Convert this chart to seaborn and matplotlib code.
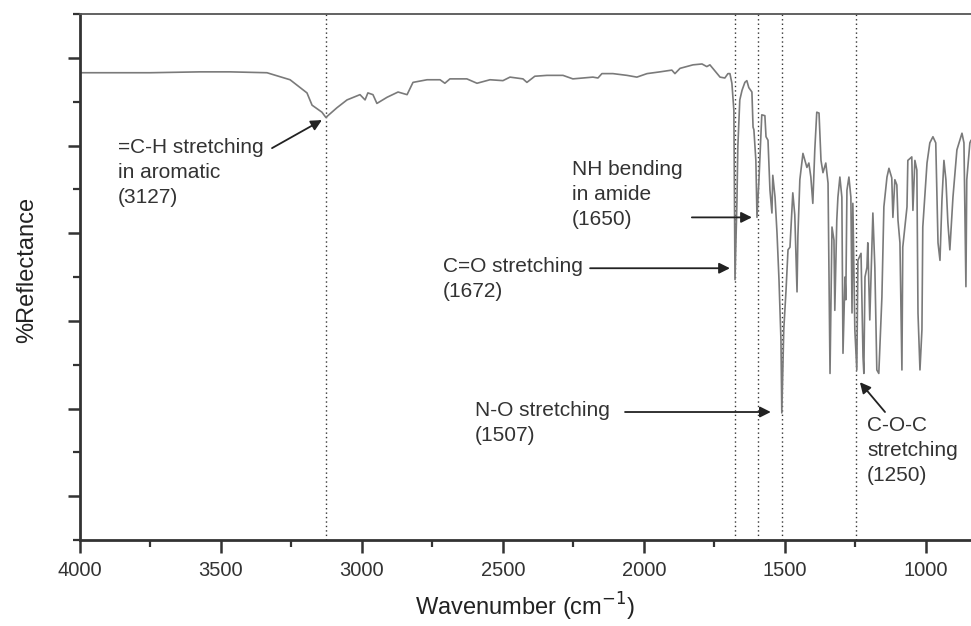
import matplotlib
matplotlib.use("Agg")
import matplotlib.pyplot as plt
from matplotlib.ticker import MultipleLocator, NullFormatter
import seaborn as sns
import pandas as pd

# Spectrum (wavenumber in cm-1, reflectance in arbitrary units)
wavenumber = [
    4000, 3752, 3574, 3468, 3337, 3255, 3195, 3177, 3142, 3128, 3089, 3053, 3007, 2989,
    2979, 2961, 2947, 2911, 2872, 2840, 2819, 2769, 2723, 2706, 2688, 2628, 2592, 2546,
    2500, 2475, 2429, 2415, 2387, 2344, 2287, 2252, 2181, 2163, 2149, 2110, 2060, 2025,
    1989, 1943, 1901, 1890, 1872, 1826, 1794, 1777, 1766, 1730, 1713, 1702, 1695, 1688,
    1681, 1677, 1670, 1667, 1660, 1652, 1642, 1635, 1628, 1617, 1613, 1610, 1603, 1599,
    1592, 1582, 1571, 1567, 1560, 1553, 1546, 1543, 1535, 1528, 1521, 1514, 1511, 1504,
    1496, 1489, 1482, 1472, 1465, 1457, 1454, 1447, 1436, 1422, 1415, 1408, 1401, 1394,
    1387, 1379, 1372, 1365, 1355, 1347, 1340, 1333, 1326, 1323, 1316, 1312, 1305, 1298,
    1294, 1287, 1284, 1280, 1273, 1266, 1262, 1259, 1252, 1245, 1241, 1230, 1223, 1220,
    1216, 1209, 1206, 1199, 1191, 1188, 1181, 1174, 1167, 1156, 1149, 1138, 1131, 1121,
    1117, 1110, 1103, 1099, 1092, 1085, 1082, 1067, 1064, 1050, 1046, 1039, 1032, 1028,
    1021, 1014, 1011, 996, 986, 975, 965, 957, 950, 943, 936, 929, 922, 915,
    904, 890, 872, 865, 858, 855, 844, 840,
]
reflectance = [
    48.3, 48.3, 48.4, 48.4, 48.3, 47.5, 46.0, 44.6, 43.8, 43.2, 44.3, 45.2, 45.8, 45.2,
    46.0, 45.8, 44.8, 45.5, 46.1, 45.8, 47.2, 47.5, 47.5, 47.1, 47.6, 47.6, 47.1, 47.5,
    47.4, 47.8, 47.6, 47.2, 47.9, 48.0, 48.0, 47.6, 47.8, 47.7, 48.2, 48.2, 48.0, 47.8,
    48.2, 48.4, 48.6, 48.2, 48.8, 49.2, 49.3, 49.0, 49.2, 47.8, 47.7, 48.2, 48.2, 47.1,
    44.0, 24.7, 33.8, 39.8, 45.2, 46.3, 47.2, 47.4, 46.6, 46.1, 42.1, 41.8, 38.3, 31.8,
    36.1, 43.5, 43.4, 41.0, 40.6, 34.9, 32.3, 36.6, 34.1, 30.0, 24.7, 17.8, 9.5, 19.0,
    23.5, 28.1, 28.4, 34.6, 32.1, 23.3, 29.6, 36.1, 39.1, 37.5, 38.0, 36.4, 33.4, 39.5,
    43.8, 43.7, 38.3, 36.9, 38.0, 35.7, 14.0, 30.7, 29.2, 21.2, 31.5, 34.1, 36.4, 34.1,
    16.3, 25.0, 22.4, 34.9, 36.4, 34.1, 20.9, 33.4, 19.0, 14.4, 26.9, 27.7, 15.9, 14.0,
    25.0, 26.1, 28.9, 20.1, 29.2, 32.3, 26.1, 14.4, 14.0, 22.7, 33.0, 36.4, 37.4, 36.3,
    31.8, 36.1, 35.5, 31.5, 28.9, 14.4, 28.4, 33.0, 38.3, 38.7, 32.6, 38.3, 37.2, 20.9,
    14.4, 19.0, 30.7, 38.0, 40.3, 41.0, 40.3, 28.9, 26.9, 33.8, 38.3, 36.1, 31.2, 28.1,
    34.1, 39.5, 41.4, 40.3, 23.9, 36.1, 40.3, 40.6,
]

# Marked band positions (dotted guide lines)
band_positions = [3127, 1677, 1597, 1510, 1249]

# Annotations: label, text anchor (x, y top), arrow tail, arrow head
ann_labels = ["=C-H stretching\nin aromatic\n(3127)",
              "NH bending\nin amide\n(1650)",
              "C=O stretching\n(1672)",
              "N-O stretching\n(1507)",
              "C-O-C\nstretching\n(1250)"]
ann_text_x = [3865, 2255, 2713, 2599, 1209]
ann_text_y = [40.8, 38.4, 27.3, 10.9, 9.2]
ann_tail_x = [3319, 1830, 2191, 2067, 1145]
ann_tail_y = [39.7, 31.8, 26.0, 9.6, 9.6]
ann_head_x = [3142, 1617, 1695, 1550, 1234]
ann_head_y = [42.9, 31.8, 26.0, 9.6, 13.0]

x_ticks = [4000, 3500, 3000, 2500, 2000, 1500, 1000]

sns.set_theme(style="ticks")
plt.rcParams["font.family"] = ["Liberation Sans", "DejaVu Sans"]

fig = plt.figure(figsize=(9.71, 6.26), dpi=100)
ax = fig.add_axes([80 / 971, 1 - 540 / 626, 1 - 80 / 971, (540 - 14) / 626])

df = pd.DataFrame({"wn": wavenumber, "r": reflectance})
sns.lineplot(data=df, x="wn", y="r", sort=False, estimator=None,
             color="#7a7a7a", linewidth=1.2, ax=ax)

for b in band_positions:
    ax.axvline(b, color="#333333", linestyle=(0, (1, 2.2)), linewidth=1.0, zorder=1)

for lab, tx, ty, ax0, ay0, hx, hy in zip(ann_labels, ann_text_x, ann_text_y,
                                          ann_tail_x, ann_tail_y, ann_head_x, ann_head_y):
    ax.text(tx, ty, lab, ha="left", va="top", fontsize=15, color="#333333",
            linespacing=1.4)
    ax.annotate("", xy=(hx, hy), xytext=(ax0, ay0),
                arrowprops=dict(arrowstyle="-|>", color="#222222", lw=1.3,
                                mutation_scale=16, shrinkA=0, shrinkB=0))

ax.set_xlim(4000, 840)
ax.set_ylim(-5, 55)
ax.set_xticks(x_ticks)
ax.xaxis.set_minor_locator(MultipleLocator(250))
ax.yaxis.set_major_locator(MultipleLocator(10))
ax.yaxis.set_minor_locator(MultipleLocator(5))
ax.yaxis.set_major_formatter(NullFormatter())
ax.tick_params(axis="both", which="major", direction="out", length=9, width=1.8,
               color="#333333", labelsize=14.5, labelcolor="#333333", pad=6)
ax.tick_params(axis="both", which="minor", direction="out", length=5, width=1.6,
               color="#333333")

for side in ["left", "bottom"]:
    ax.spines[side].set_linewidth(2.0)
    ax.spines[side].set_color("#333333")
ax.spines["top"].set_visible(True)
ax.spines["top"].set_linewidth(1.3)
ax.spines["top"].set_color("#555555")
ax.spines["right"].set_visible(False)

ax.set_xlabel("Wavenumber (cm$^{-1}$)", fontsize=17, color="#222222", labelpad=8)
ax.set_ylabel("")
fig.text(27 / 971, 1 - 270 / 626, "%Reflectance", rotation=90, ha="center",
         va="center", fontsize=17, color="#222222")

fig.savefig("out.png", dpi=100)
